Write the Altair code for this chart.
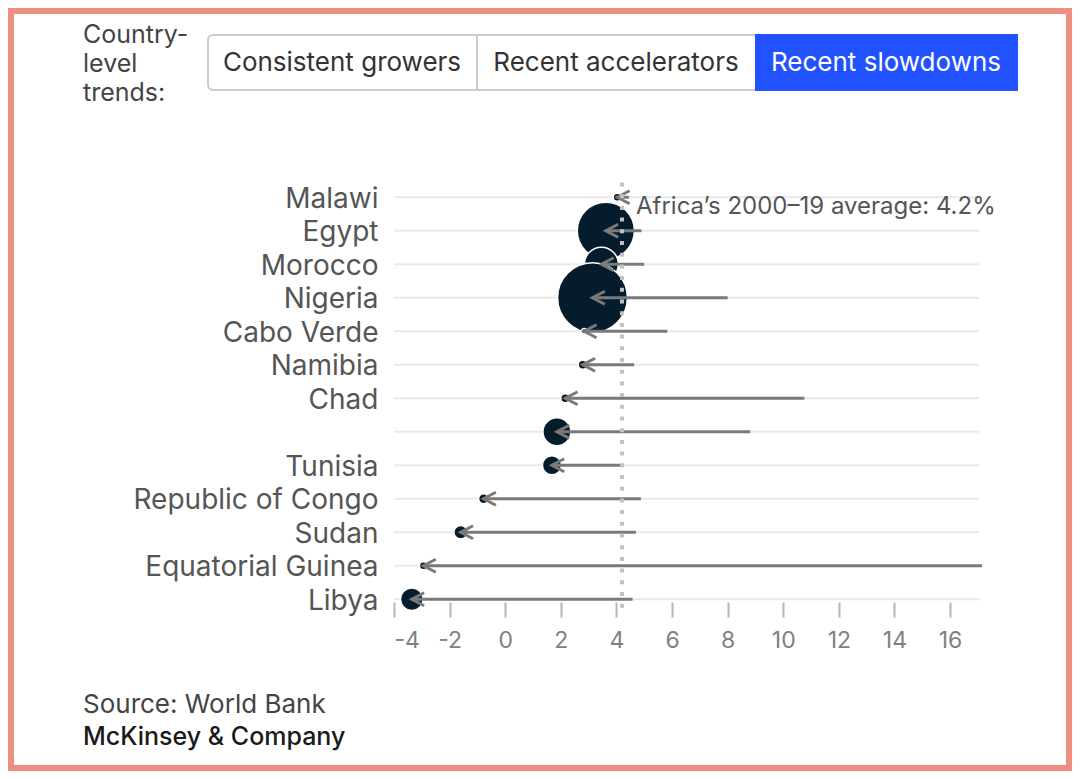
import altair as alt
import pandas as pd

# ---- data ----
countries = ["Malawi", "Egypt", "Morocco", "Nigeria", "Cabo Verde", "Namibia", "Chad",
             " ", "Tunisia", "Republic of Congo", "Sudan", "Equatorial Guinea", "Libya"]
growth_2000_19 = [4.45, 4.9, 5.0, 8.0, 5.83, 4.64, 10.76, 8.81, 4.2, 4.88, 4.7, 17.15, 4.58]
growth_recent = [4.03, 3.62, 3.46, 3.14, 2.84, 2.79, 2.16, 1.86, 1.68, -0.78, -1.6, -2.94, -3.36]
gdp_bn = [6, 300, 106, 448, 3, 7.5, 7.5, 72, 33, 9, 17, 6, 47]
x_ticks = [-4, -2, 0, 2, 4, 6, 8, 10, 12, 14, 16]
africa_avg = 4.2
buttons = ["Consistent growers", "Recent accelerators", "Recent slowdowns"]

df = pd.DataFrame({
    "country": countries,
    "start": growth_2000_19,
    "end": growth_recent,
    "gdp": gdp_bn,
})

W, H = 588, 435.5
FONT = "Inter"
NAVY = "#051C2C"
GREY = "#7a7a7a"
one = alt.Data(values=[{"k": 1}])

x_scale = alt.Scale(domain=[-4, 17.15], nice=False, zero=False)
y_enc = alt.Y(
    "country:N",
    sort=countries,
    scale=alt.Scale(type="point", padding=0.5, domain=countries),
    axis=alt.Axis(title=None, domain=False, ticks=False, grid=False, labelFont=FONT,
                  labelFontSize=28, labelColor="#555555", labelPadding=16,
                  labelOffset=2, labelLimit=400, zindex=1),
)
x_axis = alt.Axis(title=None, values=x_ticks, domain=False, grid=False, ticks=True,
                  tickSize=15, tickWidth=2, tickColor="#b5b5b5", offset=-14,
                  labelFont=FONT, labelFontSize=23, labelColor="#808080",
                  labelExpr="toString(datum.value)",
                  labelPadding=12, zindex=1)

base = alt.Chart(df)

grid = base.mark_rule(color="#e9e9e9", strokeWidth=2).encode(
    x=alt.X("start:Q", scale=x_scale, axis=x_axis),
    x2=alt.datum(-4),
    y=y_enc,
).transform_calculate(start="17.05")

circles = base.mark_circle(color=NAVY, opacity=1, stroke="white", strokeWidth=1.5).encode(
    x=alt.X("end:Q", scale=x_scale, axis=x_axis),
    y=y_enc,
    size=alt.Size("gdp:Q", scale=alt.Scale(domain=[0, 450], range=[0, 4900]), legend=None),
)

lines = base.mark_rule(color=GREY, strokeWidth=3).encode(
    x=alt.X("start:Q", scale=x_scale, axis=x_axis),
    x2="end:Q",
    y=y_enc,
)

chevrons = base.mark_point(shape="M 1.9 -1 L 0 0 L 1.9 1", filled=False, color=GREY,
                           strokeWidth=3, size=169, opacity=1).encode(
    x=alt.X("end:Q", scale=x_scale, axis=x_axis),
    y=y_enc,
)

avg_rule = alt.Chart(one).mark_rule(color="#c2c2c2", strokeWidth=4, strokeDash=[4, 7.7]).encode(
    x=alt.datum(africa_avg),
    y=alt.value(2),
    y2=alt.value(432),
)

avg_text = alt.Chart(one).mark_text(
    text="Africa\u2019s 2000\u201319 average: 4.2%", align="left", baseline="alphabetic",
    dx=14, font=FONT, fontSize=24, color="#555555",
).encode(x=alt.datum(africa_avg), y=alt.value(33.5))

# ---- page decoration: border, header buttons, footer ----
border = alt.Chart(one).mark_rect(filled=False, stroke="#ec8f80", strokeWidth=6).encode(
    x=alt.value(-383), x2=alt.value(675), y=alt.value(-169.5), y2=alt.value(587.5))

btn_box = alt.Chart(one).mark_rect(fill="white", stroke="#cccccc", strokeWidth=2,
                                   cornerRadius=5).encode(
    x=alt.value(-186), x2=alt.value(623), y=alt.value(-145.5), y2=alt.value(-90.5))
btn_active = alt.Chart(one).mark_rect(fill="#2251FF").encode(
    x=alt.value(361), x2=alt.value(624), y=alt.value(-146.5), y2=alt.value(-89.5))
btn_div = alt.Chart(one).mark_rule(color="#cccccc", strokeWidth=2).encode(
    x=alt.value(83), y=alt.value(-145.5), y2=alt.value(-90.5))


def btn_text(label, xpx, color):
    return alt.Chart(one).mark_text(text=label, align="center", baseline="middle",
                                    font=FONT, fontSize=26, color=color).encode(
        x=alt.value(xpx), y=alt.value(-117.5))


b1 = btn_text(buttons[0], -52, "#333333")
b2 = btn_text(buttons[1], 222, "#333333")
b3 = btn_text(buttons[2], 492, "#ffffff")

header = alt.Chart(one).mark_text(text=["Country-", "level", "trends:"], align="left",
                                  baseline="alphabetic", lineHeight=29, font=FONT,
                                  fontSize=25, color="#444444").encode(
    x=alt.value(-311), y=alt.value(-137.5))

source = alt.Chart(one).mark_text(text="Source: World Bank", align="left",
                                  baseline="alphabetic", font=FONT, fontSize=26,
                                  color="#444444").encode(
    x=alt.value(-311), y=alt.value(532.5))
brand = alt.Chart(one).mark_text(text="McKinsey & Company", align="left",
                                 baseline="alphabetic", font=FONT, fontSize=25,
                                 fontWeight=500, color="#1a1a1a").encode(
    x=alt.value(-311), y=alt.value(564))

chart = alt.layer(
    border, btn_box, btn_active, btn_div, b1, b2, b3, header,
    grid, circles, lines, chevrons, avg_rule, avg_text, source, brand,
).properties(
    width=W, height=H,
    autosize=alt.AutoSizeParams(type="none"),
    padding={"left": 386, "top": 172.5, "right": 90, "bottom": 155},
).configure(background="white").configure_view(strokeWidth=0)

chart.save("out.html", embed_options={"renderer": "svg", "actions": False})
